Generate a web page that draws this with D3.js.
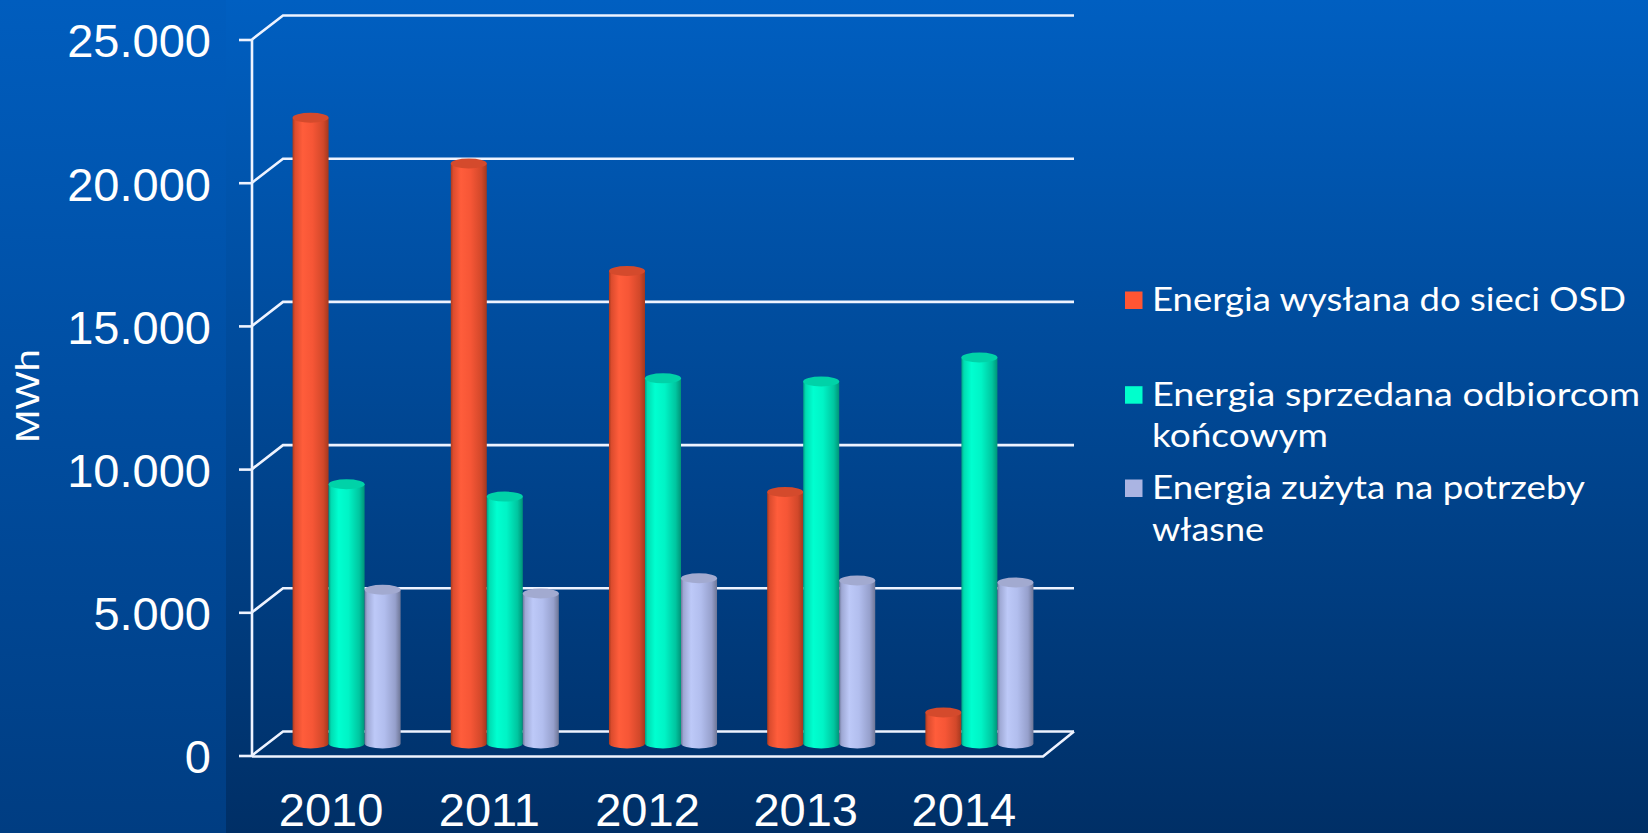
<!DOCTYPE html>
<html>
<head>
<meta charset="utf-8">
<script src="https://cdn.jsdelivr.net/npm/d3@7"></script>
<style>
  html, body { margin: 0; padding: 0; background: #00488f; }
  svg { display: block; }
</style>
</head>
<body>
<svg id="chart" width="1648" height="833"></svg>
<script>
// ---- data ----
const categories = ["2010", "2011", "2012", "2013", "2014"];
const seriesNames = ["Energia wysłana do sieci OSD", "Energia sprzedana odbiorcom końcowym", "Energia zużyta na potrzeby własne"];
const sentToOSD   = [21850, 20250, 16500, 8780, 1080];
const soldToEnd   = [9050, 8620, 12750, 12640, 13480];
const ownUse      = [5370, 5240, 5770, 5690, 5620];
const yTicks      = [0, 5000, 10000, 15000, 20000, 25000];
const yTickLabels = ["0", "5.000", "10.000", "15.000", "20.000", "25.000"];
const legendLines = [["Energia wysłana do sieci OSD"], ["Energia sprzedana odbiorcom", "końcowym"], ["Energia zużyta na potrzeby", "własne"]];
const yAxisTitle  = "MWh";

// ---- layout / styles ----
const W = 1648, H = 833;
const X0 = 252, X1 = 1043;       // front plane left/right
const DX = 31, DY = -24;          // depth offset of back wall
const seriesValues = [sentToOSD, soldToEnd, ownUse];
const seriesKeys = ["red", "green", "lilac"];
const legendColors = ["#ff5533", "#00ffcc", "#aab4e2"];
const topColors = ["#d44a2c", "#00d2a8", "#a2aad0"];
const gradStops = {
  red:   [[0, "#a83a1e"], [0.07, "#dc4c2e"], [0.28, "#ff5d3b"], [0.55, "#f65636"], [0.85, "#d2482a"], [1, "#a4381e"]],
  green: [[0, "#00a084"], [0.07, "#00dcb2"], [0.28, "#00ffd0"], [0.55, "#00f4c6"], [0.85, "#00c6a0"], [1, "#009478"]],
  lilac: [[0, "#727a9e"], [0.07, "#9ea8d4"], [0.28, "#bdc9f8"], [0.55, "#b2beee"], [0.85, "#96a0cc"], [1, "#6e7696"]]
};

const svg = d3.select("#chart");
const defs = svg.append("defs");

// backgrounds
const bgL = defs.append("linearGradient").attr("id", "bgL").attr("x1", 0).attr("y1", 0).attr("x2", 0).attr("y2", 1);
bgL.append("stop").attr("offset", 0).attr("stop-color", "#005dbe");
bgL.append("stop").attr("offset", 1).attr("stop-color", "#003d82");
const bgM = defs.append("linearGradient").attr("id", "bgM").attr("x1", 0).attr("y1", 0).attr("x2", 0).attr("y2", 1);
bgM.append("stop").attr("offset", 0).attr("stop-color", "#005fc1");
bgM.append("stop").attr("offset", 1).attr("stop-color", "#002f66");
svg.append("rect").attr("width", W).attr("height", H).attr("fill", "url(#bgL)");
svg.append("rect").attr("x", 226).attr("width", W - 226).attr("height", H).attr("fill", "url(#bgM)");

seriesKeys.forEach(k => {
  const g = defs.append("linearGradient").attr("id", "g-" + k).attr("x1", 0).attr("y1", 0).attr("x2", 1).attr("y2", 0);
  gradStops[k].forEach(s => g.append("stop").attr("offset", s[0]).attr("stop-color", s[1]));
});

// scales
const y = d3.scaleLinear().domain([0, 25000]).range([755.5, 39.5]);
const x = d3.scaleBand().domain(categories).range([X0, X1]).paddingInner(0.317).paddingOuter(0.1585);
const xs = d3.scaleBand().domain(d3.range(seriesValues.length)).range([0, x.bandwidth()]);

const lineColor = "#eef3ff";
const lw = 2.6;

// grid lines (left wall diagonal + back wall horizontal)
svg.append("g").selectAll("path").data(yTicks).join("path")
  .attr("d", d => `M${X0},${y(d)} L${X0 + DX},${y(d) + DY} L${X1 + DX},${y(d) + DY}`)
  .attr("fill", "none").attr("stroke", lineColor).attr("stroke-width", lw);

// floor front + right edge
svg.append("path")
  .attr("d", `M${X0},${y(0) + 1} L${X1},${y(0) + 1} L${X1 + DX},${y(0) + DY}`)
  .attr("fill", "none").attr("stroke", lineColor).attr("stroke-width", lw);

// vertical axis line
svg.append("line").attr("x1", X0).attr("x2", X0).attr("y1", y(25000)).attr("y2", y(0) + 1)
  .attr("stroke", lineColor).attr("stroke-width", lw);

// y axis
const yAxis = svg.append("g").attr("transform", `translate(${X0},0)`)
  .call(d3.axisLeft(y).tickValues(yTicks).tickSize(13).tickSizeOuter(0).tickPadding(28)
        .tickFormat((d, i) => yTickLabels[i]));
yAxis.select(".domain").remove();
yAxis.selectAll(".tick line").attr("stroke", lineColor).attr("stroke-width", lw);
yAxis.selectAll(".tick text").attr("fill", "#ffffff").attr("font-family", "'Liberation Sans', Arial, sans-serif")
  .attr("font-size", 47).attr("dy", "0.37em");

// x axis
const xAxis = svg.append("g").attr("transform", `translate(0,${y(0)})`)
  .call(d3.axisBottom(x).tickSize(0).tickPadding(37));
xAxis.select(".domain").remove();
xAxis.selectAll(".tick text").attr("fill", "#ffffff").attr("font-family", "'Liberation Sans', Arial, sans-serif")
  .attr("font-size", 47);

// y axis title
svg.append("text").attr("transform", "translate(39,396) rotate(-90)")
  .attr("text-anchor", "middle").attr("fill", "#ffffff")
  .attr("font-family", "'Liberation Sans', Arial, sans-serif").attr("font-size", 34)
  .attr("textLength", 94).attr("lengthAdjust", "spacingAndGlyphs")
  .text(yAxisTitle);

// bars (cylinders) at mid depth
const rY = 5;
const bars = [];
categories.forEach((c, ci) => {
  seriesValues.forEach((vals, si) => {
    bars.push({ c, si, v: vals[ci] });
  });
});
const barG = svg.append("g");
const bw = xs.bandwidth();
bars.forEach(b => {
  const bx = x(b.c) + xs(b.si) + DX / 2;
  const yb = y(0) + DY / 2;
  const yt = y(b.v) + DY / 2;
  const rx = bw / 2;
  const g = barG.append("g");
  g.append("path")
    .attr("d", `M${bx},${yt} L${bx},${yb} A${rx},${rY} 0 0 0 ${bx + bw},${yb} L${bx + bw},${yt} Z`)
    .attr("fill", `url(#g-${seriesKeys[b.si]})`);
  g.append("ellipse").attr("cx", bx + rx).attr("cy", yt).attr("rx", rx).attr("ry", rY)
    .attr("fill", topColors[b.si]);
});

// legend (widths matched to the reference's wide geometric face)
const legendFont = "Lato, 'Open Sans', sans-serif";
const legendX = 1125, textX = 1152;
const baselines = [[311], [405.7, 447.3], [499, 540.7]];
const lineWidths = [[474], [488, 176], [433, 112]];
const lfs = 32;
const lg = svg.append("g");
legendLines.forEach((lines, i) => {
  lg.append("rect").attr("x", legendX).attr("y", baselines[i][0] - 19.5).attr("width", 17.5).attr("height", 17.5)
    .attr("fill", legendColors[i]);
  lines.forEach((t, j) => {
    lg.append("text").attr("x", textX).attr("y", baselines[i][j]).attr("fill", "#ffffff")
      .attr("font-family", legendFont).attr("font-size", lfs)
      .attr("textLength", lineWidths[i][j]).attr("lengthAdjust", "spacingAndGlyphs")
      .text(t);
  });
});
</script>
</body>
</html>
